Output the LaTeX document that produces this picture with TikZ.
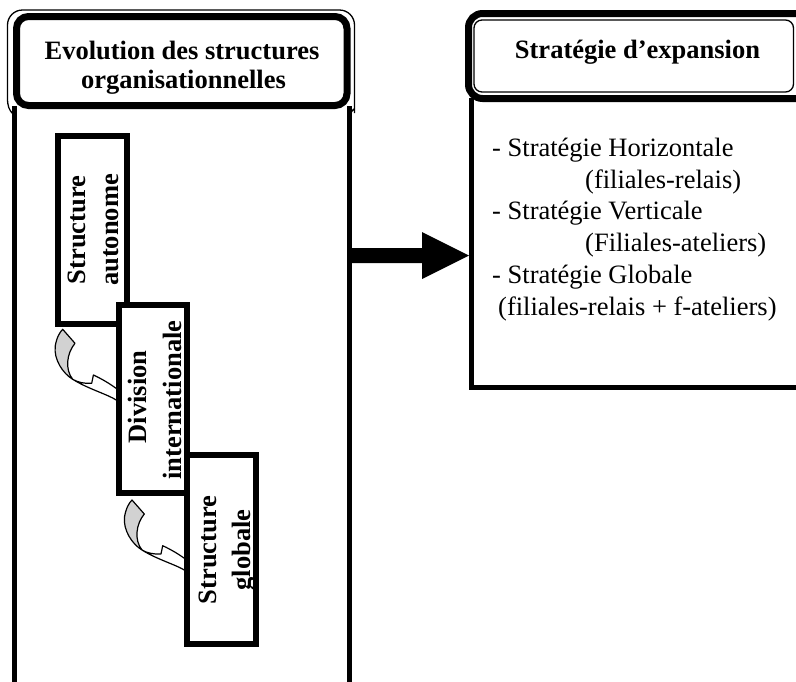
\documentclass[tikz,border=0pt]{standalone}
\usepackage{fontspec}
\setmainfont{Liberation Serif}
\usetikzlibrary{calc}
\begin{document}
\begin{tikzpicture}[x=1pt,y=-1pt,
  title/.style={font=\fontsize{26.5}{29.5}\selectfont\bfseries, inner sep=0, anchor=base},
  item/.style={font=\fontsize{26.5}{31}\selectfont, inner sep=0, anchor=base west},
  stage/.style={draw, line width=6, fill=white, inner sep=0,
    minimum width=68.5, minimum height=188.5},
  stagetext/.style={font=\fontsize{26.5}{32}\selectfont\bfseries, rotate=90,
    inner sep=0, anchor=base},
  twist/.pic={
    % front band ending in the arrow head
    \filldraw[fill=white, line width=1.2, line join=round]
      (10,50) .. controls (15,53) and (22,54.5) .. (29,54) -- (30.7,45.7)
      .. controls (40,50) and (48,55) .. (54,59.5) -- (54,71)
      .. controls (45,65) and (25,59.5) .. (10,50) -- cycle;
    % shaded back of the twisted band
    \filldraw[fill=gray!35, line width=1.2, line join=round]
      (0,0) -- (12.3,14) .. controls (4,24) and (2,40) .. (10,50)
      .. controls (0,44) and (-9,30) .. (-7.5,17)
      .. controls (-6,8) and (-3,3) .. (0,0) -- cycle;
  }]
\useasboundingbox (0,0) rectangle (796,681);
\clip (0,0) rectangle (796,681);
\fill[white] (0,0) rectangle (796,681);

% left column: open frame under its title
\draw[line width=4.5] (14.5,106) -- (14.5,700);
\draw[line width=4.5] (349.5,106) -- (349.5,700);
\draw[line width=1.3] (13,114) .. controls (9,110) and (7.5,106) .. (7.5,98)
  [rounded corners=15] -- (7.5,10) -- (354.5,10) -- (354.5,98) [sharp corners]
  .. controls (354.5,106) and (353,110) .. (350,114);
\draw[line width=7, fill=white, rounded corners=12] (16.5,16.5) rectangle (347,105.5);
\node[title] (lefttitleA) at (182,59) {Evolution des structures};
\node[title] (lefttitleB) at (183.5,88) {organisationnelles};

% right column
\draw[line width=5] (471,98) -- (471,387.5) -- (830,387.5);
\draw[line width=7, fill=white, rounded corners=14] (468.5,13.5) rectangle (830,98.5);
\draw[line width=1.3, rounded corners=8] (474,20) rectangle (793.5,92);
\node[title] (righttitle) at (637.5,58.5) {Stratégie d’expansion};

\node[item] (s1) at (492,156) {- Stratégie Horizontale};
\node[item] (s1b) at (585,188) {(filiales-relais)};
\node[item] (s2) at (492,219) {- Stratégie Verticale};
\node[item] (s2b) at (585,251) {(Filiales-ateliers)};
\node[item] (s3) at (492,283) {- Stratégie Globale};
\node[item] (s3b) at (498,315) {(filiales-relais + f-ateliers)};

% block arrow between the columns
\coordinate (arrtail) at (352,255.5);
\coordinate (arrtip) at (469,255.5);
\fill ($(arrtail)+(0,-7.5)$) -- (422,248) -- (422,232) -- (arrtip) -- (422,279)
  -- (422,263) -- ($(arrtail)+(0,7.5)$) -- cycle;

% successive structures
\node[stage] (box1) at (92.5,230) {};
\node[stagetext] (box1a) at (85,230) {Structure};
\node[stagetext] (box1b) at (118.5,230) {autonome};
\pic at (62.7,329.3) {twist};
\node[stage] (box2) at (153,399) {};
\node[stagetext] (box2a) at (146,397) {Division};
\node[stagetext] (box2b) at (181.5,400) {internationale};
\pic at (132,500) {twist};
\node[stage] (box3) at (221.5,549.5) {};
\node[stagetext] (box3a) at (216,550) {Structure};
\node[stagetext] (box3b) at (250,550) {globale};
\end{tikzpicture}
\end{document}
